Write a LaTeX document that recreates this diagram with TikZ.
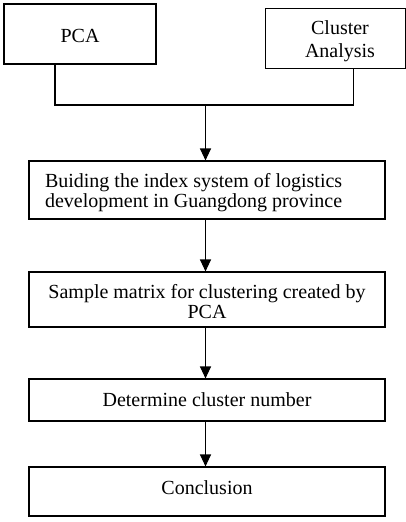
\documentclass[tikz,border=0pt]{standalone}
\usepackage{fontspec}
\setmainfont{Liberation Serif}
\usetikzlibrary{arrows.meta}
% place content with its first baseline #1 below the node centre
\newcommand{\placetxt}[2]{\raisebox{-#1}[0pt][0pt]{#2}}
\newcommand{\lines}[3]{\parbox[t]{#1}{#2#3}}
\begin{document}
\begin{tikzpicture}[x=1pt,y=-1pt,
  box/.style={draw,line width=1.1pt,rectangle,inner sep=0pt,
    font=\fontsize{20}{20.5}\selectfont},
  arr/.style={line width=1.1pt,-{Triangle[length=12pt,width=11pt]}},
  ln/.style={line width=1.1pt}]
\useasboundingbox (0,0) rectangle (406,522);
\node[box,minimum width=152pt,minimum height=60pt] (pca) at (80,34)
  {\placetxt{9pt}{PCA}};
\node[box,minimum width=140pt,minimum height=60pt] (ca) at (335.5,38.3)
  {\placetxt{-3.5pt}{\hspace*{9pt}\lines{131pt}{\centering\baselineskip=23pt}{Cluster\\Analysis}}};
\node[box,minimum width=356pt,minimum height=58pt] (b2) at (207,190)
  {\placetxt{-3pt}{\lines{324pt}{\raggedright}{Buiding the index system of logistics\\development in Guangdong province}}};
\node[box,minimum width=356pt,minimum height=55pt] (b3) at (207,299.5)
  {\placetxt{-1.5pt}{\lines{356pt}{\centering}{Sample matrix for clustering created by\\PCA}}};
\node[box,minimum width=356pt,minimum height=42pt] (b4) at (207,400)
  {\placetxt{6pt}{Determine cluster number}};
\node[box,minimum width=356pt,minimum height=49pt] (b5) at (207,491.5)
  {\placetxt{2.5pt}{Conclusion}};
\coordinate (j) at (205.5,105);
\draw[ln] (pca.south -| 55,0) |- (j) -| (ca.south -| 353.3,0);
\draw[arr] (j) -- (j |- b2.north);
\draw[arr] (b2.south -| j) -- (b3.north -| j);
\draw[arr] (b3.south -| j) -- (b4.north -| j);
\draw[arr] (b4.south -| j) -- (b5.north -| j);
\end{tikzpicture}
\end{document}
